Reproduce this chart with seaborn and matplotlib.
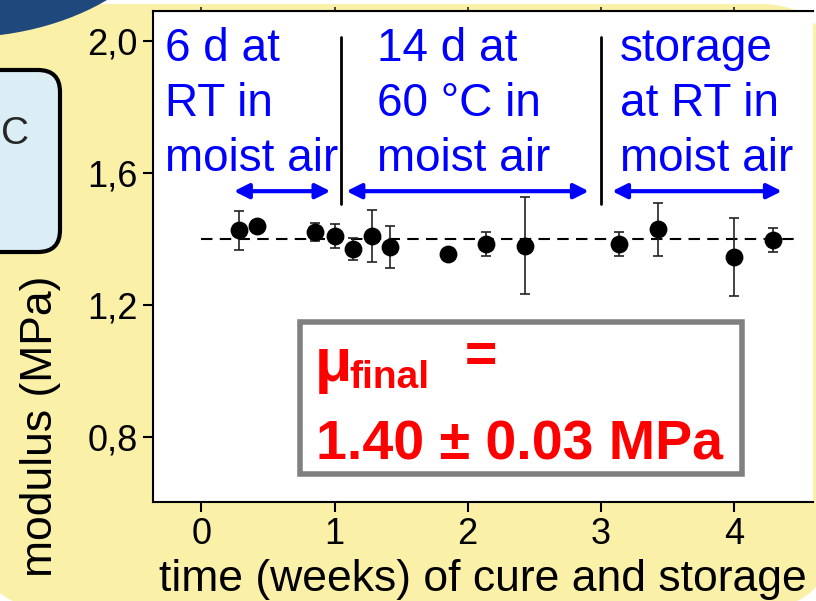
import matplotlib
matplotlib.use("Agg")
import matplotlib.pyplot as plt
import matplotlib.patches as mpatches
from matplotlib.transforms import IdentityTransform
import seaborn as sns

# data
weeks = [0.28, 0.42, 0.85, 1.00, 1.14, 1.28, 1.42, 1.85, 2.14, 2.43, 3.14, 3.43, 4.00, 4.29]
modulus = [1.427, 1.439, 1.421, 1.409, 1.370, 1.409, 1.376, 1.355, 1.385, 1.379, 1.385, 1.430, 1.345, 1.397]
modulus_err = [0.059, 0.0, 0.027, 0.036, 0.033, 0.080, 0.064, 0.0, 0.036, 0.147, 0.036, 0.080, 0.118, 0.036]
mean_modulus = 1.40
mean_span = [0.0, 4.45]

x_ticks = [0, 1, 2, 3, 4]
y_ticks = [0.8, 1.2, 1.6, 2.0]
y_tick_labels = ["0,8", "1,2", "1,6", "2,0"]

phase_bounds = [1.045, 3.0]
phase_arrows = [(0.244, 0.969), (1.089, 2.91), (3.085, 4.36)]
phase_texts = [["6 d at", "RT in", "moist air"],
               ["14 d at", "60 °C in", "moist air"],
               ["storage", "at RT in", "moist air"]]

W, H = 816, 601


def fx(px):
    return px / W


def fy(py):
    return 1 - py / H


sns.set_style("ticks")
plt.rcParams["font.family"] = ["Liberation Sans", "DejaVu Sans"]

fig = plt.figure(figsize=(W / 100, H / 100), dpi=100, facecolor="white")
ident = IdentityTransform()

# slide background pieces
panel = mpatches.FancyBboxPatch((-20, H - 608), 850, 604,
                                boxstyle="round,pad=0,rounding_size=70",
                                fc="#FAF0A8", ec="none", transform=ident, zorder=-3)
fig.add_artist(panel)
blob = mpatches.Ellipse((-40, H + 120), 454, 315, fc="#1F497D", ec="none",
                        transform=ident, zorder=-2)
fig.add_artist(blob)
side_box = mpatches.FancyBboxPatch((-40, H - 252), 100, 182,
                                   boxstyle="round,pad=0,rounding_size=22",
                                   fc="#DCEEF5", ec="black", lw=3,
                                   transform=ident, zorder=-2)
fig.add_artist(side_box)
fig.text(fx(1), fy(134), "C", fontsize=28, ha="left", va="center")

ax = fig.add_axes([fx(153), fy(502), fx(813) - fx(153), fy(11) - fy(502)])
ax.set_facecolor("white")

ax.errorbar(weeks, modulus, yerr=modulus_err, fmt="none", ecolor="#222222",
            elinewidth=1.2, capsize=3.3, capthick=1.2, zorder=2)
sns.scatterplot(x=weeks, y=modulus, color="black", s=165, edgecolor="black",
                linewidth=0, ax=ax, zorder=3)
ax.plot(mean_span, [mean_modulus, mean_modulus], color="black", lw=1.5,
        ls=(0, (5.5, 3.5)), zorder=1)

for xb in phase_bounds:
    ax.plot([xb, xb], [1.505, 2.012], color="black", lw=2)
for x0, x1 in phase_arrows:
    ax.annotate("", xy=(x1, 1.545), xytext=(x0, 1.545),
                arrowprops=dict(arrowstyle="<|-|>", color="#0000FF", lw=3,
                                mutation_scale=22, shrinkA=0, shrinkB=0))

ax.set_xlim(-0.364, 4.594)
ax.set_ylim(0.603, 2.091)
ax.set_xticks(x_ticks)
ax.set_yticks(y_ticks)
ax.set_yticklabels(y_tick_labels)
ax.tick_params(axis="both", direction="out", length=7, width=1.5, pad=4,
               labelsize=26, color="black", labelcolor="black")
for side in ["left", "bottom", "top"]:
    ax.spines[side].set_linewidth(1.5)
    ax.spines[side].set_color("black")
ax.spines["right"].set_visible(False)

top = ax.secondary_xaxis("top")
top.set_xticks(x_ticks)
top.tick_params(direction="out", length=3, width=1.2, labeltop=False)

ax.set_xlabel("time (weeks) of cure and storage", fontsize=32, color="black")
ax.set_ylabel("modulus (MPa)", fontsize=32, color="black")
ax.xaxis.set_label_coords(0.5, -0.116)
ax.yaxis.set_label_coords(-0.139, 0.154)

# blue phase descriptions
for left, lines in zip([165, 377, 620], phase_texts):
    for i, line in enumerate(lines):
        fig.text(fx(left), fy(61 + 55 * i), line, fontsize=33, color="#0000FF",
                 ha="left", va="baseline")

# result box
res_box = mpatches.Rectangle((300, H - 474), 442, 152, fc="white", ec="#808080",
                             lw=4, transform=ident, zorder=5)
fig.add_artist(res_box)
red = "#FF0000"
fig.text(fx(315), fy(381), "\u03bc", fontsize=44, color=red, weight="bold",
         va="baseline", zorder=6)
fig.text(fx(349), fy(388), "final", fontsize=28, color=red, weight="bold",
         va="baseline", zorder=6)
fig.text(fx(465), fy(358), "=", fontsize=40, color=red, weight="bold",
         va="center", zorder=6)
fig.text(fx(316), fy(460), "1.40 \u00b1 0.03 MPa", fontsize=40, color=red,
         weight="bold", va="baseline", zorder=6)

fig.savefig("out.png", dpi=100, facecolor="white")
